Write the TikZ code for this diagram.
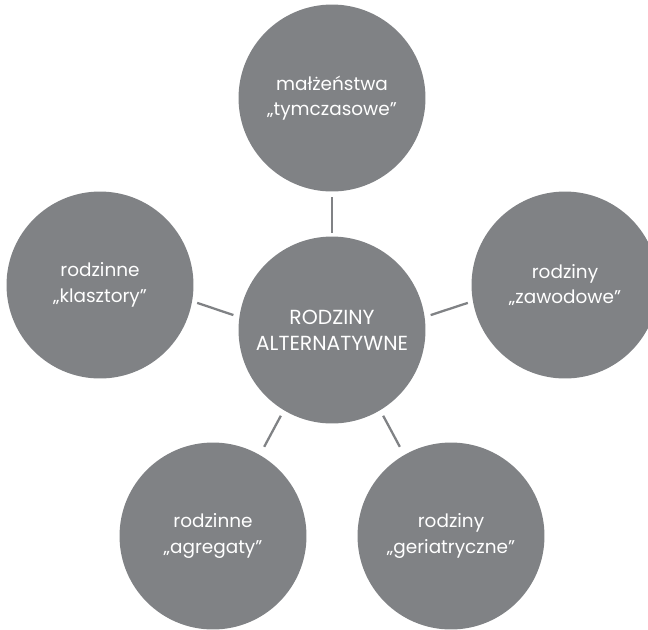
\documentclass[tikz,border=0pt]{standalone}
\usepackage{fontspec}
\setmainfont{Poppins}
\usepackage{xcolor}
\usepackage{tikz}
\definecolor{disc}{HTML}{808285}
\definecolor{txt}{HTML}{FFFFFF}
\tikzset{
  bubble/.style={circle, fill=disc, draw=none, inner sep=0pt, minimum size=3.74cm,
    text=txt, align=center, font=\fontsize{10.5}{14.6}\selectfont},
  hub/.style={bubble, font=\fontsize{11.6}{14.6}\selectfont},
  link/.style={draw=disc, line width=1.3pt, shorten <=0.12cm, shorten >=0.1cm},
}

\begin{document}
\begin{tikzpicture}[x=0.02cm, y=-0.02cm]
  \useasboundingbox (0,0) rectangle (648,629);
  \node[hub] (core) at (332,330) {RODZINY\\ALTERNATYWNE};
  \node[bubble] (top) at (332,98) {małżeństwa\\„tymczasowe”};
  \node[bubble] (left) at (100,285) {rodzinne\\„klasztory”};
  \node[bubble] (right) at (565,285) {rodziny\\„zawodowe”};
  \node[bubble] (botl) at (213,536) {rodzinne\\„agregaty”};
  \node[bubble] (botr) at (451,536) {rodziny\\„geriatryczne”};
  \draw[link, shorten <=0.07cm] (core.90) -- (top.270);
  \draw[link] (core.172) -- (left.-10);
  \draw[link] (core.8) -- (right.190);
  \draw[link, shorten >=0.18cm] (core.239) -- (botl.60);
  \draw[link, shorten >=0.18cm] (core.301) -- (botr.120);
\end{tikzpicture}
\end{document}
